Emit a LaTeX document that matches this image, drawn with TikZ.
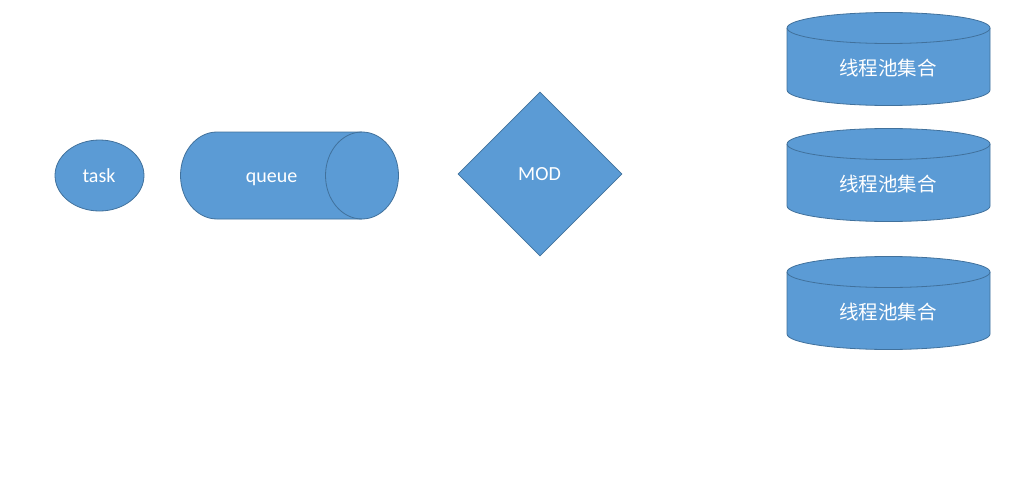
\documentclass[tikz,border=0pt]{standalone}
\usepackage{fontspec}
\setmainfont{Carlito}
\newfontfamily\cjk{Noto Sans CJK SC}
\usetikzlibrary{shapes.geometric}
\definecolor{boxfill}{HTML}{5B9BD5}
\definecolor{boxline}{HTML}{41719C}
\tikzset{
  shp/.style={fill=boxfill,draw=boxline,line width=0.8pt},
  lbl/.style={text=white,font=\fontsize{20}{24}\selectfont,inner sep=0pt,anchor=base},
  cjklbl/.style={text=white,font=\cjk\fontsize{19.5}{24}\selectfont,inner sep=0pt}
}
\newcommand{\poolcyl}[2]{%
  % #1 = top ellipse centre y, #2 = name
  \path[shp] (787,#1) -- (787,#1+62) arc[start angle=180,end angle=0,x radius=101.5,y radius=15.5] -- (990,#1) arc[start angle=360,end angle=180,x radius=101.5,y radius=15.5] -- cycle;
  \draw[boxline,line width=0.8pt] (787,#1) arc[start angle=180,end angle=0,x radius=101.5,y radius=15.5];
  \node[cjklbl] (#2) at (888,#1+40.5) {线程池集合};
}
\begin{document}
\begin{tikzpicture}[x=1pt,y=-1pt]
\useasboundingbox (0,0) rectangle (1011,500);
% task
\node[shp,ellipse,minimum width=89pt,minimum height=71pt,inner sep=0pt] (task) at (99.5,175.5) {};
\node[lbl] (tasklbl) at (99,182.3) {task};
% queue (horizontal cylinder)
\path[shp] (217,132) -- (362,132) arc[start angle=-90,end angle=90,x radius=36.5,y radius=43.5] -- (217,219) arc[start angle=90,end angle=270,x radius=36.5,y radius=43.5] -- cycle;
\draw[boxline,line width=0.8pt] (362,132) arc[start angle=270,end angle=90,x radius=36.5,y radius=43.5];
\node[lbl] (queue) at (271.5,182) {queue};
% MOD
\node[shp,diamond,minimum width=164pt,minimum height=164pt,inner sep=0pt] (mod) at (540,174) {};
\node[lbl] (modlbl) at (539.5,180) {MOD};
% pools
\poolcyl{28}{poolA}
\poolcyl{144}{poolB}
\poolcyl{272}{poolC}
\end{tikzpicture}
\end{document}
